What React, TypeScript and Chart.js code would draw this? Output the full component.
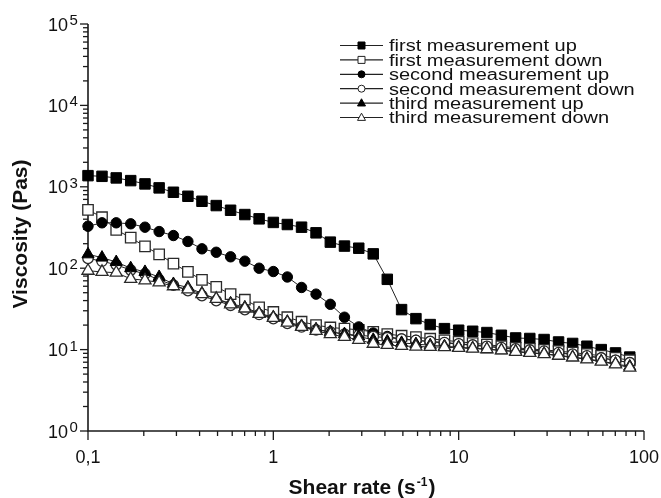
import React, { useEffect, useRef } from 'react';
import { Chart, registerables } from 'chart.js';
Chart.register(...registerables);

// Shear rate values (s^-1), log spaced
const shearRate = [0.1, 0.119, 0.142, 0.17, 0.203, 0.242, 0.289, 0.346, 0.412, 0.492, 0.588, 0.702, 0.838, 1.0, 1.19, 1.42, 1.7, 2.03, 2.42, 2.89, 3.46, 4.12, 4.92, 5.88, 7.02, 8.38, 10, 11.9, 14.2, 17, 20.3, 24.2, 28.9, 34.6, 41.2, 49.2, 58.8, 70.2, 83.8];

const firstUp = [1371, 1345, 1285, 1191, 1085, 970, 857, 765, 664, 588, 515, 456, 404, 365, 344, 319, 272, 209, 187, 176, 150, 73, 31, 24, 20.3, 18.1, 17.3, 16.8, 16.2, 15.0, 13.9, 13.7, 13.3, 12.4, 11.9, 11.0, 10.0, 9.1, 8.1];
const firstDown = [521, 423, 296, 237, 185, 148, 114, 90, 72, 59, 48, 41, 33, 29, 25, 22, 20, 18.7, 18.1, 17.5, 16.5, 15.5, 14.8, 14.2, 13.6, 13.0, 12.5, 12.0, 11.5, 11.0, 10.5, 10.2, 9.9, 9.6, 9.2, 8.8, 8.4, 7.9, 7.4];
const secondUp = [328, 361, 361, 351, 319, 282, 252, 213, 173, 157, 138, 122, 100, 91, 78, 58, 48, 36, 25, 19, 16, 14.5, 13.5, 13, 12.5, 12.1, 11.7, 11.3, 10.9, 10.5, 10.1, 9.8, 9.5, 9.1, 8.7, 8.3, 7.9, 7.4, 6.9];
const secondDown = [132, 122, 110, 95, 85, 72, 62, 53, 46, 40, 35, 31, 27, 24, 21, 19, 17.5, 16.5, 15.5, 15, 14.5, 14, 13.5, 13, 12.6, 12.2, 11.8, 11.4, 11, 10.6, 10.2, 9.9, 9.6, 9.2, 8.8, 8.4, 7.9, 7.4, 6.9];
const thirdUp = [148, 135, 119, 100, 90, 78, 64, 58, 49, 42, 37, 33, 28, 25, 22, 19.5, 17.8, 16.5, 15.5, 14.5, 13.2, 12.6, 12.1, 11.7, 11.3, 11, 10.7, 10.4, 10.1, 9.8, 9.5, 9.2, 8.9, 8.5, 8.1, 7.7, 7.2, 6.7, 6.2];
const thirdDown = [93, 90, 88, 74, 71, 67, 60, 55, 48, 42, 36, 32, 27.5, 24.5, 21.5, 19, 17, 15.5, 14.3, 13.2, 11.8, 11.4, 11.1, 10.9, 10.8, 10.7, 10.5, 10.3, 10.1, 9.8, 9.4, 9.1, 8.8, 8.4, 8.0, 7.6, 7.1, 6.6, 6.0];

const seriesLabels = ['first measurement up', 'first measurement down', 'second measurement up', 'second measurement down', 'third measurement up', 'third measurement down'];
const seriesValues = [firstUp, firstDown, secondUp, secondDown, thirdUp, thirdDown];
const seriesShapes = ['rect', 'rect', 'circle', 'circle', 'triangle', 'triangle'];
const seriesFilled = [true, false, true, false, true, false];

const xMajorTicks = [0.1, 1, 10, 100];
const xTickLabels = ['0,1', '1', '10', '100'];
const yMajorTicks = [1, 10, 100, 1000, 10000, 100000];
const yTickExponents = ['0', '1', '2', '3', '4', '5'];
const minorMultipliers = [2, 3, 4, 5, 6, 7, 8, 9];
const xTitleMain = 'Shear rate (s';
const xTitleSup = '-1';
const xTitleEnd = ')';
const yTitle = 'Viscosity (Pas)';

const FONT = '"Liberation Sans", Arial, sans-serif';
const AXIS_COLOR = '#1a1a1a';

function markerRadius(shape: string) {
  if (shape === 'rect') return 7.4;
  if (shape === 'circle') return 5.2;
  return 7;
}

function drawLegendMarker(ctx: CanvasRenderingContext2D, shape: string, x: number, y: number, s: number, filled: boolean) {
  ctx.beginPath();
  if (shape === 'rect') {
    ctx.rect(x - s / 2, y - s / 2, s, s);
  } else if (shape === 'circle') {
    ctx.arc(x, y, s / 2, 0, Math.PI * 2);
  } else {
    const h = s * 0.9;
    ctx.moveTo(x, y - h * 0.6);
    ctx.lineTo(x + s / 2, y + h * 0.4);
    ctx.lineTo(x - s / 2, y + h * 0.4);
    ctx.closePath();
  }
  ctx.fillStyle = filled ? '#000' : '#fff';
  ctx.fill();
  ctx.lineWidth = 1;
  ctx.strokeStyle = filled ? '#000' : '#222';
  ctx.stroke();
}

const axisPlugin = {
  id: 'axisDecor',
  beforeDatasetsDraw(chart: any) {
    const ctx: CanvasRenderingContext2D = chart.ctx;
    const xs = chart.scales.x;
    const ys = chart.scales.y;
    const { left, right, top, bottom } = chart.chartArea;
    ctx.save();
    ctx.strokeStyle = AXIS_COLOR;
    ctx.lineWidth = 1.6;
    ctx.beginPath();
    ctx.moveTo(left, top);
    ctx.lineTo(left, bottom);
    ctx.lineTo(right, bottom);
    ctx.stroke();
    ctx.lineWidth = 1.3;
    xMajorTicks.forEach((v, i) => {
      const px = xs.getPixelForValue(v);
      ctx.beginPath();
      ctx.moveTo(px, bottom);
      ctx.lineTo(px, bottom + 9);
      ctx.stroke();
      if (i < xMajorTicks.length - 1) {
        minorMultipliers.forEach((m) => {
          const mx = xs.getPixelForValue(v * m);
          ctx.beginPath();
          ctx.moveTo(mx, bottom);
          ctx.lineTo(mx, bottom + 5);
          ctx.stroke();
        });
      }
    });
    yMajorTicks.forEach((v, i) => {
      const py = ys.getPixelForValue(v);
      ctx.beginPath();
      ctx.moveTo(left, py);
      ctx.lineTo(left - 8, py);
      ctx.stroke();
      if (i < yMajorTicks.length - 1) {
        minorMultipliers.forEach((m) => {
          const my = ys.getPixelForValue(v * m);
          ctx.beginPath();
          ctx.moveTo(left, my);
          ctx.lineTo(left - 5, my);
          ctx.stroke();
        });
      }
    });
    ctx.restore();
  },
  afterDraw(chart: any) {
    const ctx: CanvasRenderingContext2D = chart.ctx;
    const xs = chart.scales.x;
    const ys = chart.scales.y;
    const { left, right, bottom } = chart.chartArea;
    ctx.save();
    ctx.fillStyle = '#111';
    ctx.font = `18px ${FONT}`;
    ctx.textAlign = 'center';
    ctx.textBaseline = 'alphabetic';
    xMajorTicks.forEach((v, i) => {
      ctx.fillText(xTickLabels[i], xs.getPixelForValue(v), bottom + 32);
    });
    yMajorTicks.forEach((v, i) => {
      const py = ys.getPixelForValue(v);
      ctx.font = `18px ${FONT}`;
      ctx.textAlign = 'right';
      ctx.fillText('10', left - 20, py + 6.5);
      ctx.font = `15px ${FONT}`;
      ctx.textAlign = 'left';
      ctx.fillText(yTickExponents[i], left - 18.5, py + 1);
    });
    ctx.font = `bold 21px ${FONT}`;
    const w1 = ctx.measureText(xTitleMain).width;
    ctx.font = `bold 12px ${FONT}`;
    const w2 = ctx.measureText(xTitleSup).width;
    ctx.font = `bold 21px ${FONT}`;
    const w3 = ctx.measureText(xTitleEnd).width;
    const total = w1 + w2 + 2 + w3;
    let sx = (left + right) / 2 - 4 - total / 2;
    const by = 494;
    ctx.textAlign = 'left';
    ctx.fillText(xTitleMain, sx, by);
    sx += w1 + 1;
    ctx.font = `bold 12px ${FONT}`;
    ctx.fillText(xTitleSup, sx, by - 8);
    sx += w2 + 1;
    ctx.font = `bold 21px ${FONT}`;
    ctx.fillText(xTitleEnd, sx, by);
    ctx.save();
    ctx.translate(27, 234);
    ctx.rotate(-Math.PI / 2);
    ctx.font = `bold 21px ${FONT}`;
    ctx.textAlign = 'center';
    ctx.fillText(yTitle, 0, 0);
    ctx.restore();
    const rowStart = 45.5;
    const rowGap = 14.4;
    seriesLabels.forEach((label, i) => {
      const ry = rowStart + i * rowGap;
      ctx.strokeStyle = '#222';
      ctx.lineWidth = 1.2;
      ctx.beginPath();
      ctx.moveTo(340, ry);
      ctx.lineTo(383, ry);
      ctx.stroke();
      drawLegendMarker(ctx, seriesShapes[i], 361.5, ry, seriesShapes[i] === 'triangle' ? 8 : 7, seriesFilled[i]);
      ctx.save();
      ctx.translate(389, ry + 5.8);
      ctx.scale(1.25, 1);
      ctx.font = `16px ${FONT}`;
      ctx.fillStyle = '#111';
      ctx.textAlign = 'left';
      ctx.textBaseline = 'alphabetic';
      ctx.fillText(label, 0, 0);
      ctx.restore();
    });
    ctx.restore();
  },
};

export default function App() {
  const ref = useRef<HTMLCanvasElement>(null);
  useEffect(() => {
    document.body.style.margin = '0';
    const datasets = seriesValues.map((vals, i) => ({
      label: seriesLabels[i],
      data: shearRate.map((x, k) => ({ x, y: vals[k] })),
      showLine: true,
      borderColor: '#222',
      borderWidth: 1,
      pointStyle: seriesShapes[i],
      pointRadius: markerRadius(seriesShapes[i]),
      pointBackgroundColor: seriesFilled[i] ? '#000' : '#fff',
      pointBorderColor: seriesFilled[i] ? '#000' : '#2a2a2a',
      pointBorderWidth: seriesFilled[i] ? 1 : 1.3,
      clip: false as any,
      order: seriesLabels.length - i,
    }));
    const chart = new Chart(ref.current!, {
      type: 'scatter',
      data: { datasets },
      options: {
        responsive: false,
        animation: false,
        layout: { padding: { left: 0, right: 17, top: 24, bottom: 0 } },
        scales: {
          x: {
            type: 'logarithmic',
            min: 0.1,
            max: 100,
            grid: { display: false },
            border: { display: false },
            ticks: { display: false },
            afterFit: (s: any) => { s.height = 67; },
          },
          y: {
            type: 'logarithmic',
            min: 1,
            max: 100000,
            grid: { display: false },
            border: { display: false },
            ticks: { display: false },
            afterFit: (s: any) => { s.width = 88; },
          },
        },
        plugins: { legend: { display: false }, tooltip: { enabled: false } },
      },
      plugins: [axisPlugin],
    });
    return () => chart.destroy();
  }, []);
  return <canvas ref={ref} width={661} height={498} style={{ display: 'block' }} />;
}
